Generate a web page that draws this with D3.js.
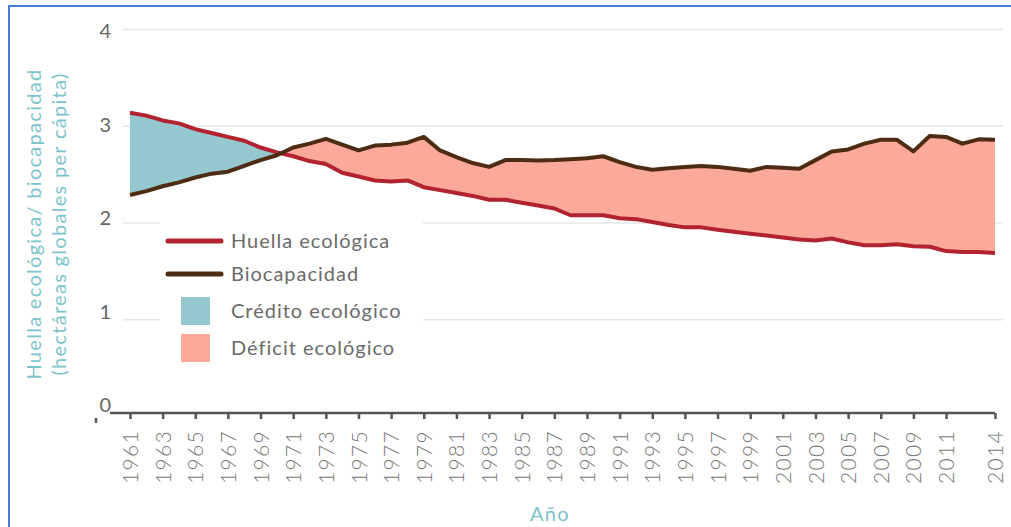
<!DOCTYPE html>
<html>
<head>
  <meta charset="utf-8">
  <script src="https://d3js.org/d3.v7.min.js"></script>
  <style>
    body { margin: 0; background: #fff; }
    svg text { font-family: Lato, "Open Sans", sans-serif; }
    .grid line { stroke: #e6e6e6; stroke-width: 1.5; }
    .ylab { fill: #666; font-size: 20px; }
    .xlab { fill: #777; font-size: 21px; letter-spacing: 1.3px; font-weight: 300; }
    .legend text { fill: #6a6a6a; font-size: 20px; letter-spacing: 1px; }
    .title { fill: #7cc4cb; font-size: 20px; letter-spacing: 1.3px; }
  </style>
</head>
<body>
  <svg id="chart" width="1011" height="527"></svg>
  <script>
    var years = d3.range(1961, 2015);
    var huella = [
      3.14, 3.11, 3.06, 3.03, 2.97, 2.93, 2.89, 2.85, 2.78, 2.73,
      2.69, 2.64, 2.61, 2.52, 2.48, 2.44, 2.43, 2.44, 2.37, 2.34,
      2.31, 2.28, 2.24, 2.24, 2.21, 2.18, 2.15, 2.08, 2.08, 2.08,
      2.05, 2.04, 2.01, 1.98, 1.955, 1.955, 1.93, 1.91, 1.89, 1.87,
      1.85, 1.83, 1.82, 1.84, 1.80, 1.77, 1.77, 1.78, 1.76, 1.755,
      1.71, 1.70, 1.70, 1.69
    ];
    var biocapacidad = [
      2.29, 2.33, 2.38, 2.42, 2.47, 2.51, 2.53, 2.59, 2.65, 2.70,
      2.78, 2.82, 2.87, 2.81, 2.75, 2.80, 2.81, 2.83, 2.89, 2.75,
      2.68, 2.62, 2.58, 2.65, 2.65, 2.645, 2.65, 2.66, 2.67, 2.69,
      2.63, 2.58, 2.55, 2.565, 2.58, 2.59, 2.58, 2.56, 2.54, 2.58,
      2.57, 2.56, 2.65, 2.74, 2.76, 2.82, 2.86, 2.86, 2.74, 2.90,
      2.89, 2.82, 2.865, 2.86
    ];
    var xTicks = d3.range(1961, 2012, 2).concat([2014]);
    var yTicks = [0, 1, 2, 3, 4];
    var legendItems = [
      { label: 'Huella ecológica', type: 'line', color: '#b3232f' },
      { label: 'Biocapacidad', type: 'line', color: '#4e2c14' },
      { label: 'Crédito ecológico', type: 'box', color: '#95c8cf' },
      { label: 'Déficit ecológico', type: 'box', color: '#fda99a' }
    ];

    var data = years.map(function (yr, i) {
      return { year: yr, h: huella[i], b: biocapacidad[i] };
    });

    var svg = d3.select('#chart');

    var x = d3.scaleLinear().domain([1961, 2014]).range([130, 995]);
    var y = d3.scaleLinear().domain([0, 4]).range([416.5, 29.5]);
    // tick labels sit a little above their gridlines in the original
    var yLabelPos = d3.scaleLinear().domain([0, 4]).range([405, 31]);

    // frame
    svg.append('path')
      .attr('d', 'M9,527V6H1011')
      .attr('fill', 'none')
      .attr('stroke', '#4a7bd6')
      .attr('stroke-width', 2);

    // gridlines
    svg.append('g').attr('class', 'grid')
      .selectAll('line')
      .data(yTicks.filter(function (d) { return d > 0; }))
      .enter().append('line')
      .attr('x1', 123).attr('x2', 1003)
      .attr('y1', function (d) { return y(d); })
      .attr('y2', function (d) { return y(d); });

    svg.append('g')
      .selectAll('text')
      .data(yTicks)
      .enter().append('text')
      .attr('class', 'ylab')
      .attr('x', 111)
      .attr('y', function (d) { return yLabelPos(d); })
      .attr('dy', '0.35em')
      .attr('text-anchor', 'end')
      .text(function (d) { return d; });

    // credit / deficit areas, split by clipping at the crossing
    var between = d3.area()
      .x(function (d) { return x(d.year); })
      .y0(function (d) { return y(d.h); })
      .y1(function (d) { return y(d.b); });
    var aboveBio = d3.area()
      .x(function (d) { return x(d.year); })
      .y0(0)
      .y1(function (d) { return y(d.b); });
    var aboveHuella = d3.area()
      .x(function (d) { return x(d.year); })
      .y0(0)
      .y1(function (d) { return y(d.h); });

    var defs = svg.append('defs');
    defs.append('clipPath').attr('id', 'clipCredit')
      .append('path').attr('d', aboveBio(data));
    defs.append('clipPath').attr('id', 'clipDeficit')
      .append('path').attr('d', aboveHuella(data));

    svg.append('path')
      .attr('d', between(data))
      .attr('fill', legendItems[2].color)
      .attr('clip-path', 'url(#clipCredit)');
    svg.append('path')
      .attr('d', between(data))
      .attr('fill', legendItems[3].color)
      .attr('clip-path', 'url(#clipDeficit)');

    var line = function (key) {
      return d3.line()
        .x(function (d) { return x(d.year); })
        .y(function (d) { return y(d[key]); });
    };
    svg.append('path')
      .attr('d', line('h')(data))
      .attr('fill', 'none')
      .attr('stroke', legendItems[0].color)
      .attr('stroke-width', 4)
      .attr('stroke-linejoin', 'round');
    svg.append('path')
      .attr('d', line('b')(data))
      .attr('fill', 'none')
      .attr('stroke', legendItems[1].color)
      .attr('stroke-width', 4)
      .attr('stroke-linejoin', 'round');

    // x axis
    var xAxis = d3.axisBottom(x)
      .tickValues(xTicks)
      .tickSize(6)
      .tickSizeOuter(0)
      .tickFormat(d3.format('d'));
    var gx = svg.append('g')
      .attr('transform', 'translate(0,413)')
      .call(xAxis);
    gx.select('.domain')
      .attr('d', 'M110,0H' + x(2014))
      .attr('stroke', '#555')
      .attr('stroke-width', 2.5);
    gx.selectAll('.tick line').attr('stroke', '#555').attr('stroke-width', 2.5);
    gx.selectAll('.tick text')
      .attr('class', 'xlab')
      .attr('transform', 'rotate(-90)')
      .attr('x', -17)
      .attr('y', 0)
      .attr('dy', '0.36em')
      .attr('text-anchor', 'end')
      .style('font-family', 'Lato, sans-serif');

    // stray mark at the origin
    svg.append('line')
      .attr('x1', 96).attr('x2', 96)
      .attr('y1', 418).attr('y2', 423)
      .attr('stroke', '#555').attr('stroke-width', 2.5);

    // legend (white box hides gridlines behind it)
    var legend = svg.append('g').attr('class', 'legend');
    legend.append('rect')
      .attr('x', 160).attr('y', 222).attr('width', 263).attr('height', 148)
      .attr('fill', '#fff');
    var item = legend.selectAll('g.item')
      .data(legendItems)
      .enter().append('g')
      .attr('class', 'item')
      .attr('transform', function (d, i) {
        return 'translate(0,' + [241, 274, 311, 348][i] + ')';
      });
    item.filter(function (d) { return d.type === 'line'; })
      .append('line')
      .attr('x1', 168).attr('x2', 221)
      .attr('stroke', function (d) { return d.color; })
      .attr('stroke-width', 5)
      .attr('stroke-linecap', 'round');
    item.filter(function (d) { return d.type === 'box'; })
      .append('rect')
      .attr('x', 181).attr('y', -14).attr('width', 29).attr('height', 28)
      .attr('fill', function (d) { return d.color; });
    item.append('text')
      .attr('x', 231)
      .attr('dy', '0.35em')
      .text(function (d) { return d.label; });

    // axis titles
    svg.append('text')
      .attr('class', 'title')
      .attr('transform', 'translate(41,224) rotate(-90)')
      .attr('text-anchor', 'middle')
      .text('Huella ecológica/ biocapacidad');
    svg.append('text')
      .attr('class', 'title')
      .attr('transform', 'translate(66,224) rotate(-90)')
      .attr('text-anchor', 'middle')
      .text('(hectáreas globales per cápita)');
    svg.append('text')
      .attr('class', 'title')
      .attr('x', 550).attr('y', 521)
      .attr('text-anchor', 'middle')
      .text('Año');
  </script>
</body>
</html>
